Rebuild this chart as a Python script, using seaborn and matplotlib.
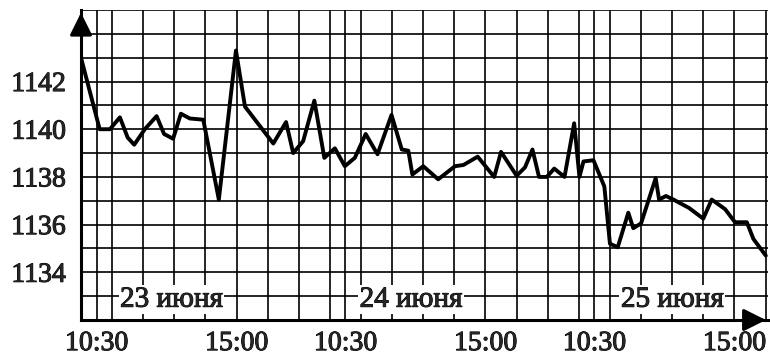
import matplotlib
matplotlib.use("Agg")
import matplotlib.pyplot as plt
import matplotlib.patheffects as pe
import seaborn as sns
import pandas as pd

# session time axis: hours after 10:00 on 23 June, each trading day takes 8 hours (10:00-18:00)
hours = [0.0, 0.6, 0.93, 1.25, 1.5, 1.71, 2.05, 2.43, 2.67, 2.96, 3.21, 3.5, 3.93, 4.43,
         4.98, 5.27, 6.18, 6.59, 6.82, 7.14, 7.5, 7.82, 8.16, 8.48, 8.8, 9.15, 9.53, 9.98,
         10.31, 10.52, 10.65, 11.0, 11.48, 12.02, 12.29, 12.75, 13.28, 13.5, 14.0, 14.27,
         14.51, 14.72, 14.97, 15.21, 15.54, 15.85, 16.02, 16.15, 16.47, 16.82, 17.0, 17.25,
         17.59, 17.75, 18.0, 18.47, 18.58, 18.8, 19.04, 19.54, 20.0, 20.27, 20.7, 21.02,
         21.4, 21.61, 22.01]
price = [1143.0, 1140.0, 1140.0, 1140.5, 1139.65, 1139.35, 1140.0, 1140.55, 1139.8, 1139.6,
         1140.65, 1140.45, 1140.4, 1137.05, 1143.3, 1140.95, 1139.4, 1140.3, 1139.0, 1139.5,
         1141.2, 1138.8, 1139.2, 1138.45, 1138.8, 1139.8, 1138.95, 1140.6, 1139.15, 1139.1,
         1138.1, 1138.45, 1137.9, 1138.45, 1138.5, 1138.85, 1138.0, 1139.05, 1138.05, 1138.4,
         1139.15, 1138.0, 1138.0, 1138.35, 1138.0, 1140.25, 1138.0, 1138.65, 1138.7, 1137.6,
         1135.2, 1135.05, 1136.5, 1135.85, 1136.05, 1137.95, 1137.05, 1137.2, 1137.05, 1136.7,
         1136.25, 1137.05, 1136.65, 1136.1, 1136.1, 1135.4, 1134.7]

tick_pos = [0.5, 5, 8.5, 13, 16.5, 21]
tick_labels = ["10:30", "15:00", "10:30", "15:00", "10:30", "15:00"]
y_ticks = [1134, 1136, 1138, 1140, 1142]
days = ["23 июня", "24 июня", "25 июня"]
day_pos = [2.9, 10.6, 19.0]

sns.set_style("white")
plt.rcParams['font.family'] = ['Liberation Serif', 'DejaVu Serif']

df = pd.DataFrame({"t": hours, "price": price})
heavy = [pe.withStroke(linewidth=0.7, foreground="black")]

fig = plt.figure(figsize=(7.7, 3.57), dpi=100)
ax = fig.add_axes([81 / 770, 37 / 357, 687 / 770, 310 / 357])

# grid: every hour plus the 10:30 lines, every point vertically
for g in list(range(1, 23)) + [0.5, 8.5, 16.5]:
    ax.axvline(g, color="black", lw=1.2, zorder=1)
for g in range(1133, 1146):
    ax.axhline(g, color="black", lw=1.2, zorder=1)

sns.lineplot(data=df, x="t", y="price", color="black", lw=2.8, sort=False, ax=ax, zorder=3)

ax.set_xlim(0, 22.08)
ax.set_ylim(1132, 1145)
ax.set_xticks(tick_pos)
ax.set_xticklabels(tick_labels)
ax.set_yticks(y_ticks)
ax.set_xlabel("")
ax.set_ylabel("")
ax.tick_params(axis="x", direction="inout", length=12, width=2, labelsize=20, pad=2)
ax.tick_params(axis="y", direction="out", length=8, width=1.5, labelsize=20, pad=3)
for lab in ax.get_xticklabels() + ax.get_yticklabels():
    lab.set_path_effects(heavy)

for s in ["top", "right"]:
    ax.spines[s].set_visible(False)
for s in ["left", "bottom"]:
    ax.spines[s].set_linewidth(2.2)
    ax.spines[s].set_color("black")

# axis arrows, tips at the end of each axis
ax.annotate("", xy=(0, 1), xycoords="axes fraction", xytext=(0, -20),
            textcoords="offset points",
            arrowprops=dict(arrowstyle="-|>", color="black", lw=2.2, mutation_scale=34),
            annotation_clip=False, zorder=5)
ax.annotate("", xy=(1.001, 0), xycoords="axes fraction", xytext=(-20, 0),
            textcoords="offset points",
            arrowprops=dict(arrowstyle="-|>", color="black", lw=2.2, mutation_scale=34),
            annotation_clip=False, zorder=5)

for name, x in zip(days, day_pos):
    ax.text(x, 1132.85, name, ha="center", va="center", fontsize=21, zorder=4,
            path_effects=heavy,
            bbox=dict(facecolor="white", edgecolor="none", pad=1.0))

fig.savefig("out.png", dpi=100)
